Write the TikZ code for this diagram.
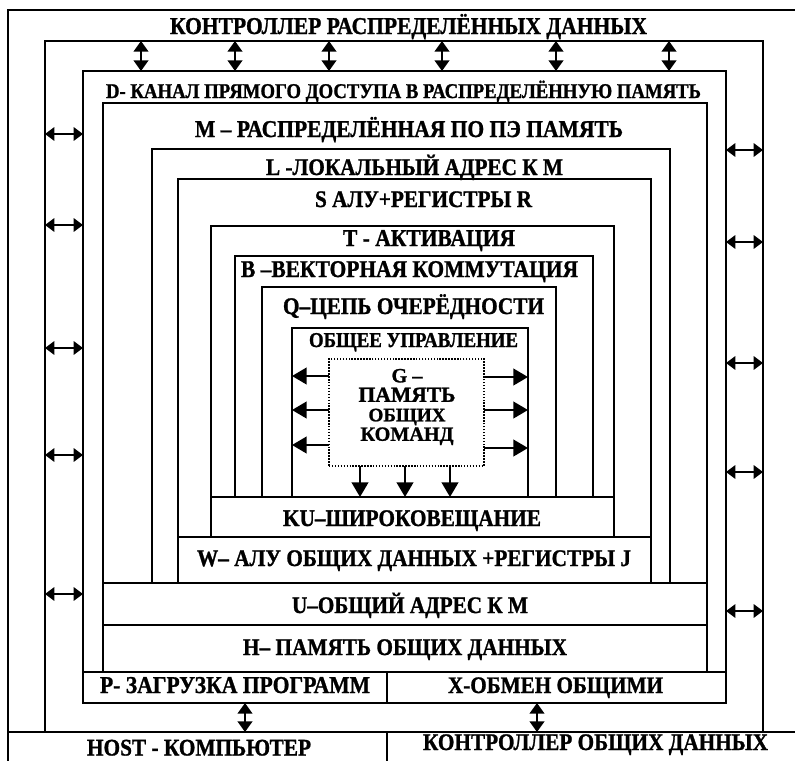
\documentclass[tikz,border=0pt]{standalone}
\usepackage{fontspec}
\setmainfont{Liberation Serif}[BoldFeatures={FakeBold=1.2}]
\usetikzlibrary{arrows.meta,fit}
\newlength\pxu
\setlength\pxu{0.75pt}
\newcommand\fitw[2]{\scalebox{1}[1.12]{\resizebox{#1\pxu}{!}{\bfseries #2}}}
\newcommand\fitg[2]{\resizebox{#1\pxu}{!}{\bfseries #2}}
\begin{document}
\begin{tikzpicture}[x=0.75pt,y=-0.75pt,
  frame/.style={draw, line width=1.5pt, inner sep=0pt, outer sep=0pt},
  gframe/.style={draw, line width=1.1pt, dash pattern=on 1.1pt off 1.1pt, inner sep=0pt, outer sep=0pt},
  lbl/.style={anchor=base, inner sep=0pt, outer sep=0pt, font=\fontsize{16}{18}\selectfont\bfseries},
  gtxt/.style={anchor=center, inner sep=0pt, outer sep=0pt, align=center,
    font={\fontsize{16}{14.6}\selectfont\bfseries\lineskiplimit=-20pt\lineskip=0pt}},
  dar/.style={line width=1.6pt, {Triangle[length=8pt,width=11pt]}-{Triangle[length=8pt,width=11pt]}},
  hdar/.style={line width=1.6pt, {Triangle[length=7pt,width=10pt]}-{Triangle[length=7pt,width=10pt]}},
  sar/.style={line width=1.6pt, -{Triangle[length=11pt,width=12.5pt]}},
]
\useasboundingbox (0,0) rectangle (795,760);
% frames
\node[frame, fit={(8,10) (800,770)}] (outr) {};
\node[frame, fit={(45,41) (763,732)}] (ctrl) {};
\node[frame, fit={(83,71) (726,703)}] (dch) {};
\node[frame, fit={(103,103) (707,672)}] (mem) {};
\node[frame, fit={(152,149) (670,583)}] (loc) {};
\node[frame, fit={(178,179) (651,583)}] (alu) {};
\node[frame, fit={(211,226) (614,537)}] (act) {};
\node[frame, fit={(235,256) (593,497)}] (vec) {};
\node[frame, fit={(262,287) (556,497)}] (que) {};
\node[frame, fit={(292,328) (528,497)}] (ctl) {};
\node[gframe, fit={(329,359) (484,466)}] (gmem) {};
% bands
\node[frame, fit={(211,497) (614,537)}] (ku) {};
\node[frame, fit={(178,537) (651,583)}] (wb) {};
\node[frame, fit={(103,583) (707,625)}] (ub) {};
\node[frame, fit={(103,625) (707,672)}] (hb) {};
\node[frame, fit={(83,672) (387,703)}] (pb) {};
\node[frame, fit={(387,672) (726,703)}] (xb) {};
\node[frame, fit={(8,732) (387,770)}] (host) {};
\node[frame, fit={(387,732) (800,770)}] (kod) {};
% texts
\node[lbl] (t1) at (408.5,34) {\fitw{477}{КОНТРОЛЛЕР РАСПРЕДЕЛЁННЫХ ДАННЫХ}};
\node[lbl] (t2) at (403.5,98) {\fitw{595}{D- КАНАЛ ПРЯМОГО ДОСТУПА В РАСПРЕДЕЛЁННУЮ ПАМЯТЬ}};
\node[lbl] (t3) at (409,137) {\fitw{428}{M – РАСПРЕДЕЛЁННАЯ ПО ПЭ ПАМЯТЬ}};
\node[lbl] (t4) at (414.5,175) {\fitw{297}{L -ЛОКАЛЬНЫЙ АДРЕС К М}};
\node[lbl] (t5) at (423.5,207) {\fitw{217}{S АЛУ+РЕГИСТРЫ R}};
\node[lbl] (t6) at (429,246) {\fitw{172}{T - АКТИВАЦИЯ}};
\node[lbl] (t7) at (409.5,277) {\fitw{337}{B –ВЕКТОРНАЯ КОММУТАЦИЯ}};
\node[lbl] (t8) at (413.5,314) {\fitw{261}{Q–ЦЕПЬ ОЧЕРЁДНОСТИ}};
\node[lbl] (t9) at (413.5,347) {\fitw{209}{ОБЩЕЕ УПРАВЛЕНИЕ}};
\node[gtxt] (gt) at (407,407) {\fitg{31}{G –}\\\fitg{97}{ПАМЯТЬ}\\\fitg{77}{ОБЩИХ}\\\fitg{93}{КОМАНД}};
\node[lbl] (t10) at (412,526) {\fitw{258}{KU–ШИРОКОВЕЩАНИЕ}};
\node[lbl] (t11) at (414,566) {\fitw{434}{W– АЛУ ОБЩИХ ДАННЫХ +РЕГИСТРЫ J}};
\node[lbl] (t12) at (410,613) {\fitw{236}{U–ОБЩИЙ АДРЕС К М}};
\node[lbl] (t13) at (405,655) {\fitw{324}{H– ПАМЯТЬ ОБЩИХ ДАННЫХ}};
\node[lbl] (t14) at (235,693) {\fitw{270}{P- ЗАГРУЗКА ПРОГРАММ}};
\node[lbl] (t15) at (555.5,693) {\fitw{215}{X-ОБМЕН ОБЩИМИ}};
\node[lbl] (t16) at (199,755.5) {\fitw{224}{HOST - КОМПЬЮТЕР}};
\node[lbl] (t17) at (595.5,750) {\fitw{345}{КОНТРОЛЛЕР ОБЩИХ ДАННЫХ}};
% connectors
\foreach \x in {141,235,329,442,556,669}
  \draw[dar] (ctrl.north -| \x,0) -- (dch.north -| \x,0);
\foreach \y in {134,225,348,455,594}
  \draw[hdar] (ctrl.west |- 0,\y) -- (dch.west |- 0,\y);
\foreach \y in {150,242,363,472,611}
  \draw[hdar] (dch.east |- 0,\y) -- (ctrl.east |- 0,\y);
\draw[dar] (pb.south -| 245,0) -- (host.north -| 245,0);
\draw[dar] (xb.south -| 537,0) -- (kod.north -| 537,0);
\foreach \y in {376,410,445}
  \draw[sar] (gmem.west |- 0,\y) -- (ctl.west |- 0,\y);
\foreach \y in {377,410,448}
  \draw[sar] (gmem.east |- 0,\y) -- (ctl.east |- 0,\y);
\foreach \x in {360,405,450}
  \draw[sar] (gmem.south -| \x,0) -- (ku.north -| \x,0);
\end{tikzpicture}
\end{document}
